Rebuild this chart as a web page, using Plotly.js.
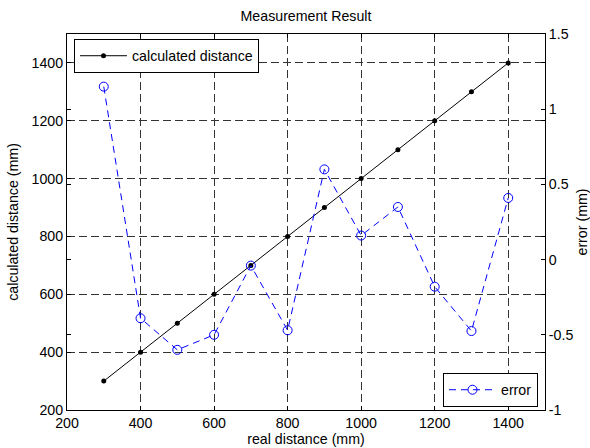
<!DOCTYPE html>
<html>
<head>
<meta charset="utf-8">
<script src="https://cdn.plot.ly/plotly-3.0.1.min.js"></script>
<style>html,body{margin:0;padding:0;background:#fff;}#chart{width:590px;height:448px;}</style>
</head>
<body>
<div id="chart"></div>
<script>
// Data
var realDistance = [300, 400, 500, 600, 700, 800, 900, 1000, 1100, 1200, 1300, 1400];
var calculatedDistance = [300, 400, 500, 600, 700, 800, 900, 1000, 1100, 1200, 1300, 1400];
var errorMm = [1.15, -0.39, -0.60, -0.50, -0.04, -0.47, 0.60, 0.16, 0.35, -0.18, -0.475, 0.41];

var xTickVals = [200, 400, 600, 800, 1000, 1200, 1400];
var yTickVals = [200, 400, 600, 800, 1000, 1200, 1400];
var y2TickVals = [-1, -0.5, 0, 0.5, 1, 1.5];
var y2TickText = ['-1', '-0.5', '0', '0.5', '1', '1.5'];

var FONT = 'Liberation Sans, Arial, sans-serif';
var FS = 14.2;
var gridDash = '8px,4px';

var traces = [
  {
    x: realDistance, y: calculatedDistance, name: 'calculated distance',
    type: 'scatter', mode: 'lines+markers', xaxis: 'x', yaxis: 'y',
    line: {color: '#000000', width: 1},
    marker: {color: '#000000', size: 5, symbol: 'circle'},
    legend: 'legend'
  },
  {
    x: realDistance, y: errorMm, name: 'error',
    type: 'scatter', mode: 'lines+markers', xaxis: 'x', yaxis: 'y2',
    line: {color: '#0000ff', width: 1, dash: '7px,5px'},
    marker: {color: '#0000ff', size: 9, symbol: 'circle-open', line: {width: 1, color: '#0000ff'}},
    legend: 'legend2'
  }
];

var layout = {
  width: 590, height: 448,
  margin: {l: 67, r: 45, t: 34, b: 38, pad: 0},
  paper_bgcolor: '#ffffff', plot_bgcolor: '#ffffff',
  font: {family: FONT, size: FS, color: '#000000'},
  title: {text: 'Measurement Result', x: 0.5, xref: 'paper', xanchor: 'center',
          y: 1 - 16/448, yref: 'container', yanchor: 'middle',
          font: {family: FONT, size: FS, color: '#000000'}},
  xaxis: {
    range: [200, 1500], tickvals: xTickVals, ticktext: xTickVals.map(String),
    showline: true, linecolor: '#000000', linewidth: 1, mirror: 'ticks',
    ticks: 'inside', ticklen: 4, tickcolor: '#000000',
    showgrid: true, gridcolor: '#333333', gridwidth: 1, griddash: gridDash,
    zeroline: false,
    title: {text: 'real distance (mm)', standoff: 1, font: {family: FONT, size: FS}}
  },
  yaxis: {
    range: [200, 1500], tickvals: yTickVals, ticktext: yTickVals.map(String),
    showline: true, linecolor: '#000000', linewidth: 1, mirror: 'ticks',
    ticks: 'inside', ticklen: 4, tickcolor: '#000000',
    showgrid: true, gridcolor: '#333333', gridwidth: 1, griddash: gridDash,
    zeroline: false,
    title: {text: 'calculated distance (mm)', standoff: 9, font: {family: FONT, size: FS}}
  },
  yaxis2: {
    range: [-1, 1.5], tickvals: y2TickVals, ticktext: y2TickText,
    overlaying: 'y', side: 'right', anchor: 'x',
    showline: true, linecolor: '#000000', linewidth: 1, mirror: 'ticks',
    ticks: 'inside', ticklen: 4, tickcolor: '#000000',
    showgrid: false, zeroline: false,
    title: {text: 'error (mm)', standoff: 7, font: {family: FONT, size: FS}}
  },
  showlegend: true,
  legend: {
    x: 7/478, y: 1 - 5/376, xref: 'paper', yref: 'paper', xanchor: 'left', yanchor: 'top',
    bgcolor: '#ffffff', bordercolor: '#000000', borderwidth: 1, itemwidth: 47,
    entrywidth: 130,
    font: {family: FONT, size: FS, color: '#000000'}
  },
  legend2: {
    x: 471/478, y: 3/376, xref: 'paper', yref: 'paper', xanchor: 'right', yanchor: 'bottom',
    bgcolor: '#ffffff', bordercolor: '#000000', borderwidth: 1, itemwidth: 47,
    font: {family: FONT, size: FS, color: '#000000'}
  }
};

Plotly.newPlot('chart', traces, layout, {displayModeBar: false, staticPlot: true});
</script>
</body>
</html>
